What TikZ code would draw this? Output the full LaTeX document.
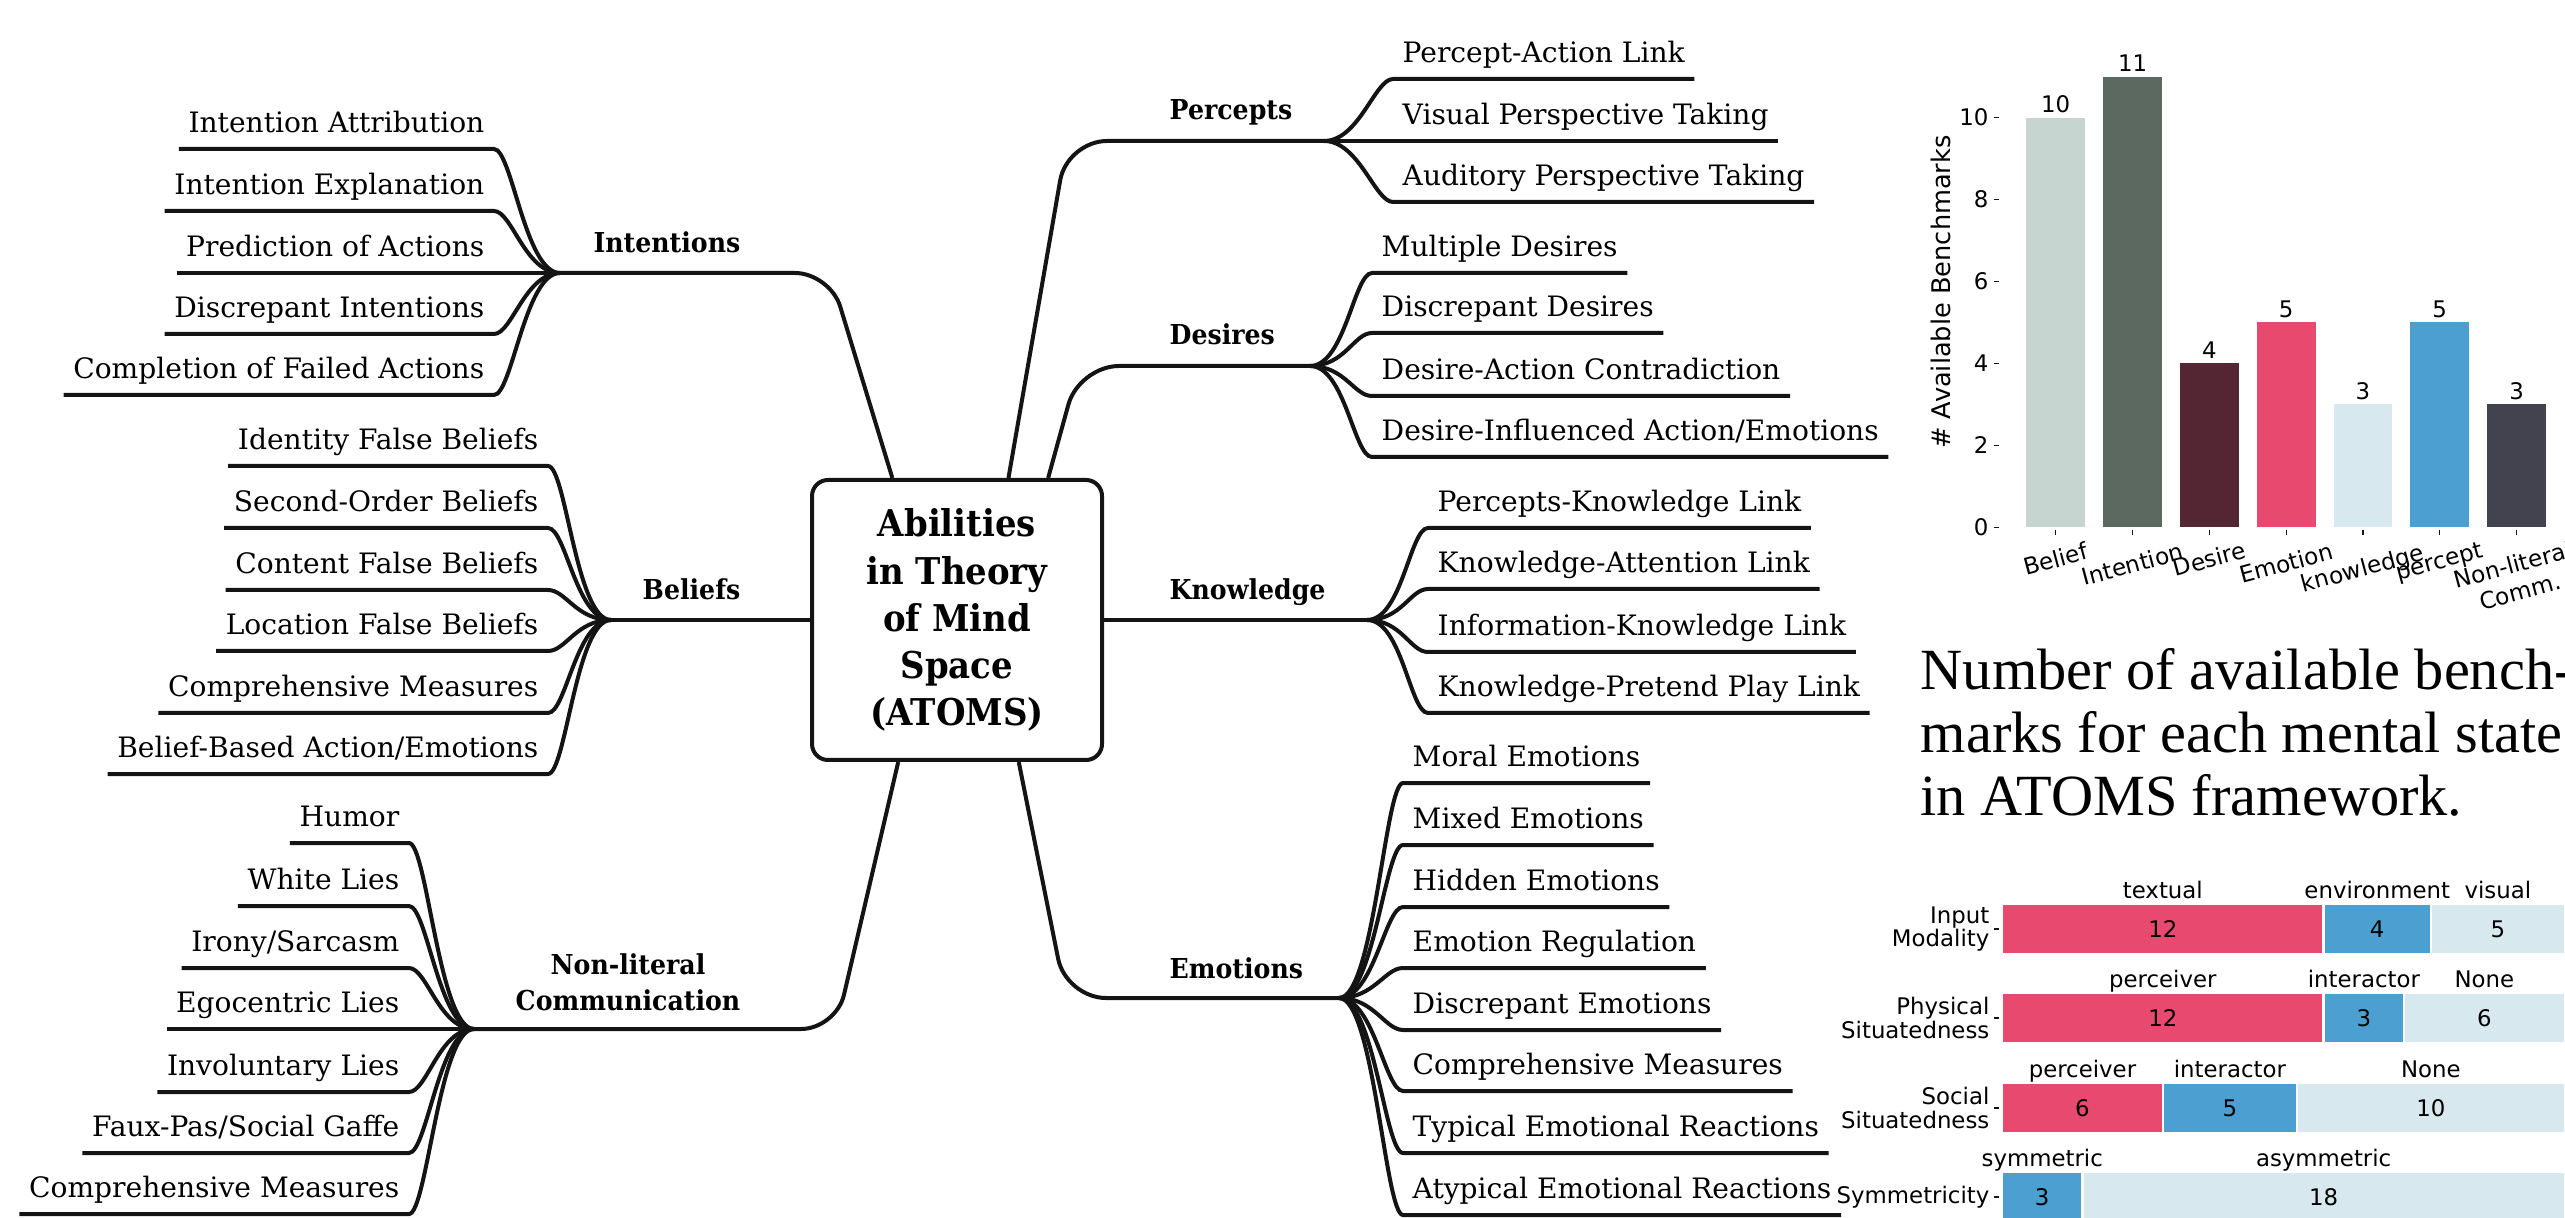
\documentclass[tikz,border=0pt]{standalone}
\usepackage{fontspec}
\newfontfamily\mapfont{DejaVu Serif}
\newfontfamily\hubfont{DejaVu Serif}[FakeStretch=0.92]
\newfontfamily\plotfont{DejaVu Sans}
\newfontfamily\capfont{Liberation Serif}
\usetikzlibrary{calc}

\definecolor{ink}{HTML}{141414}
\definecolor{cBel}{HTML}{C6D5CF}
\definecolor{cInt}{HTML}{5B6961}
\definecolor{cDes}{HTML}{542533}
\definecolor{cEmo}{HTML}{E84A6F}
\definecolor{cKno}{HTML}{D8E8EF}
\definecolor{cPer}{HTML}{4C9FD1}
\definecolor{cNon}{HTML}{43434F}

\newcommand\fLeaf{\mapfont\fontsize{8pt}{9.6pt}\selectfont}
\newcommand\fCat{\hubfont\bfseries\fontsize{7.8pt}{10pt}\selectfont}
\newcommand\fRoot{\hubfont\bfseries\fontsize{10.5pt}{13.4pt}\selectfont}
\newcommand\fTick{\plotfont\fontsize{6.5pt}{6.6pt}\selectfont}
\newcommand\fXlab{\plotfont\fontsize{6.6pt}{7.8pt}\selectfont}
\newcommand\fAxis{\plotfont\fontsize{7.3pt}{8pt}\selectfont}
\newcommand\fCap{\capfont\fontsize{16.6pt}{17.8pt}\selectfont}

\begin{document}
\begin{tikzpicture}[x=0.1mm, y=-0.1mm,
    branch/.style={draw=ink, line width=0.4mm},
    leaf/.style={font=\fLeaf, inner xsep=0.9mm, inner ysep=0.5mm, text height=2.1mm, text depth=1.1mm},
    cat/.style={font=\fCat, inner sep=0pt},
    tick/.style={font=\fTick, inner sep=0pt}]
  \useasboundingbox (0,0) rectangle (2565,1218);

  \node[draw=ink, line width=0.4mm, rounded corners=1.6mm, minimum width=29mm, minimum height=28mm,
        align=center, font=\fRoot] (root) at (957,620) {Abilities\\in Theory\\of Mind\\Space\\(ATOMS)};

  \coordinate (hubI) at (560,273);
  \coordinate (hubB) at (611,620);
  \coordinate (hubN) at (474,1029);
  \coordinate (hubP) at (1324,141);
  \coordinate (hubD) at (1310,366);
  \coordinate (hubK) at (1367,620);
  \coordinate (hubE) at (1339,998);

  \node[cat, anchor=base east] (intentions) at (741,253) {Intentions};
  \node[cat, anchor=base east] (beliefs) at (741,600) {Beliefs};
  \node[cat, anchor=base east, align=center] (nonlit) at (741,1010) {Non-literal\\Communication};
  \node[cat, anchor=base west] (percepts) at (1169,120) {Percepts};
  \node[cat, anchor=base west] (desires) at (1169,345) {Desires};
  \node[cat, anchor=base west] (knowledge) at (1169,600) {Knowledge};
  \node[cat, anchor=base west] (emotions) at (1169,978) {Emotions};

  \draw[branch, rounded corners=3.5mm] (hubI) -- (830,273) -- ($(root.north west)!0.28!(root.north east)$);
  \draw[branch] (hubB) -- (root.west);
  \draw[branch, rounded corners=3.5mm] (hubN) -- (836,1029) -- ($(root.south west)!0.3!(root.south east)$);
  \draw[branch, rounded corners=4mm] (hubP) -- (1067,141) -- ($(root.north west)!0.675!(root.north east)$);
  \draw[branch, rounded corners=4mm] (hubD) -- (1079,366) -- ($(root.north west)!0.81!(root.north east)$);
  \draw[branch] (root.east) -- (hubK);
  \draw[branch, rounded corners=4mm] (hubE) -- (1066,998) -- ($(root.south west)!0.71!(root.south east)$);

  \foreach \n/\y/\t in {ia/149/Intention Attribution, ie/211/Intention Explanation,
      ip/273/Prediction of Actions, id/334/Discrepant Intentions, ic/395/Completion of Failed Actions}
    \node[leaf, anchor=south east] (\n) at (494,\y) {\t};
  \foreach \n/\y/\t in {bi/466/Identity False Beliefs, bs/528/Second-Order Beliefs,
      bc/590/Content False Beliefs, bl/651/Location False Beliefs, bm/713/Comprehensive Measures,
      bb/774/{Belief-Based Action/Emotions}}
    \node[leaf, anchor=south east] (\n) at (548,\y) {\t};
  \foreach \n/\y/\t in {nh/843/Humor, nw/906/White Lies, ni/968/{Irony/Sarcasm}, ne/1029/Egocentric Lies,
      nv/1092/Involuntary Lies, nf/1153/{Faux-Pas/Social Gaffe}, nm/1214/Comprehensive Measures}
    \node[leaf, anchor=south east] (\n) at (409,\y) {\t};
  \foreach \n/\y/\t in {pa/79/Percept-Action Link, pv/141/Visual Perspective Taking,
      pu/202/Auditory Perspective Taking}
    \node[leaf, anchor=south west] (\n) at (1393,\y) {\t};
  \foreach \n/\y/\t in {dm/273/Multiple Desires, dd/333/Discrepant Desires,
      da/396/Desire-Action Contradiction, di/457/{Desire-Influenced Action/Emotions}}
    \node[leaf, anchor=south west] (\n) at (1372,\y) {\t};
  \foreach \n/\y/\t in {kp/528/Percepts-Knowledge Link, ka/589/Knowledge-Attention Link,
      ki/652/Information-Knowledge Link, kt/713/Knowledge-Pretend Play Link}
    \node[leaf, anchor=south west] (\n) at (1428,\y) {\t};
  \foreach \n/\y/\t in {em/783/Moral Emotions, ex/845/Mixed Emotions, eh/907/Hidden Emotions,
      er/968/Emotion Regulation, ed/1030/Discrepant Emotions, ec/1091/Comprehensive Measures,
      et/1153/Typical Emotional Reactions, ea/1215/Atypical Emotional Reactions}
    \node[leaf, anchor=south west] (\n) at (1403,\y) {\t};

  \foreach \n/\h in {ia/I,ie/I,ip/I,id/I,ic/I,bi/B,bs/B,bc/B,bl/B,bm/B,bb/B,nh/N,nw/N,ni/N,ne/N,nv/N,nf/N,nm/N}
    \draw[branch] (\n.south west) -- (\n.south east) .. controls +(18,0) and +(-35,0) .. (hub\h);
  \foreach \n/\h in {pa/P,pv/P,pu/P,dm/D,dd/D,da/D,di/D,kp/K,ka/K,ki/K,kt/K,em/E,ex/E,eh/E,er/E,ed/E,ec/E,et/E,ea/E}
    \draw[branch] (hub\h) .. controls +(35,0) and +(-18,0) .. (\n.south west) -- (\n.south east);

  \foreach \v in {0,2,...,10} {
    \node[tick, anchor=east] (yt\v) at (1989,{527.2-40.96*\v}) {\v};
    \draw[ink, line width=0.12mm] (1994,{527.2-40.96*\v}) -- (1999,{527.2-40.96*\v});
  }
  \node[font=\fAxis, rotate=90] (ylab) at (1941,292) {\# Available Benchmarks};
  \foreach \i/\v/\c/\lab/\ly in {0/10/cBel/Belief/559, 1/11/cInt/Intention/564, 2/4/cDes/Desire/559,
      3/5/cEmo/Emotion/563, 4/3/cKno/knowledge/570, 5/5/cPer/percept/563, 6/3/cNon/{Non-literal\\Comm.}/578} {
    \fill[\c] ({2026.3+76.8*\i},527.2) rectangle ++(58.8,{-40.96*\v});
    \node[tick, anchor=base] (bv\i) at ({2055.7+76.8*\i},{522-40.96*\v}) {\v};
    \draw[ink, line width=0.12mm] ({2055.7+76.8*\i},530) -- ++(0,5);
    \node[font=\fXlab, rotate=15, align=center, inner sep=0pt] (bx\i) at ({2055.7+76.8*\i},\ly) {\lab};
  }

  \node[font=\fCap, anchor=base west, align=left, inner sep=0pt] (caption) at (1920,815)
    {Number of available bench-\\marks for each mental state\\in ATOMS framework.};

  \foreach \y/\s/\v/\c/\lab [count=\k] in {929/0/12/cEmo/textual, 929/12/4/cPer/environment, 929/16/5/cKno/visual,
      1018/0/12/cEmo/perceiver, 1018/12/3/cPer/interactor, 1018/15/6/cKno/None,
      1108/0/6/cEmo/perceiver, 1108/6/5/cPer/interactor, 1108/11/10/cKno/None,
      1197/0/3/cPer/symmetric, 1197/3/18/cKno/asymmetric} {
    \path[fill=\c, draw=white, line width=0.25mm] ({2002+26.8*\s},{\y-25.2}) rectangle ++({26.8*\v},50.5);
    \node[tick] (sv\k) at ({2002+26.8*(\s+\v/2)},\y) {\v};
    \node[tick, anchor=base] (sl\k) at ({2002+26.8*(\s+\v/2)},{\y-30.5}) {\lab};
  }
  \foreach \y/\lab [count=\k] in {929/{Input\\Modality}, 1018/{Physical\\Situatedness},
      1108/{Social\\Situatedness}, 1197/Symmetricity} {
    \node[tick, anchor=east, align=right] (row\k) at (1990,\y) {\lab};
    \draw[ink, line width=0.12mm] (1994,\y) -- (1999,\y);
  }
\end{tikzpicture}
\end{document}
